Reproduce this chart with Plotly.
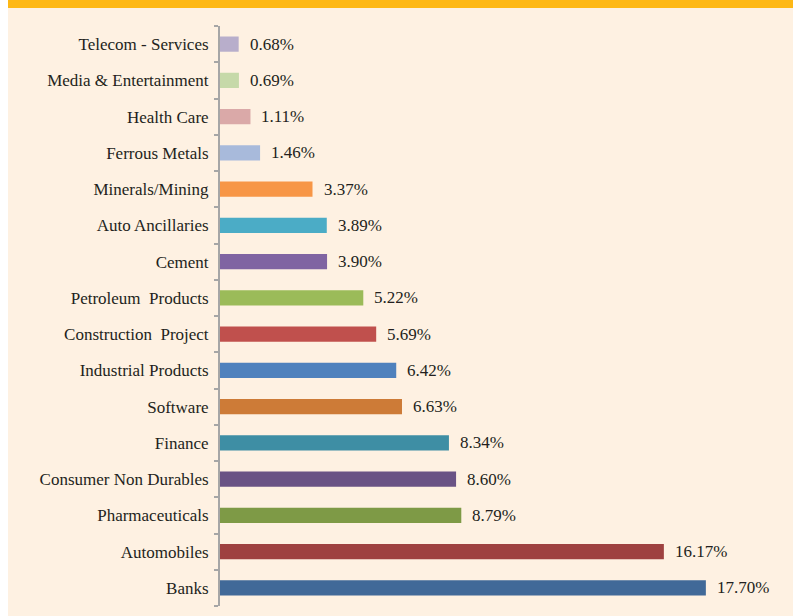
import plotly.graph_objects as go

categories = ["Banks", "Automobiles", "Pharmaceuticals", "Consumer Non Durables", "Finance",
              "Software", "Industrial Products", "Construction  Project", "Petroleum  Products",
              "Cement", "Auto Ancillaries", "Minerals/Mining", "Ferrous Metals", "Health Care",
              "Media & Entertainment", "Telecom - Services"]
values = [17.70, 16.17, 8.79, 8.60, 8.34, 6.63, 6.42, 5.69, 5.22, 3.90, 3.89, 3.37, 1.46, 1.11, 0.69, 0.68]
colors = ["#416998", "#9E4140", "#7E9A46", "#6A5385", "#3E8EA4", "#CD7B37", "#4F81BD", "#C0504D",
          "#9BBB59", "#8064A2", "#4BACC6", "#F79646", "#A8BADB", "#DAA9A8", "#C6D9A9", "#B8AECB"]

W, H = 793, 616
L, R, T, B = 220, 24, 26, 10
pw, ph = W - L - R, H - T - B

def px(x):
    return (x - L) / pw

def py(y):
    return (H - B - y) / ph

fig = go.Figure(go.Bar(
    x=values, y=categories, orientation="h",
    marker=dict(color=colors, line=dict(width=0)),
    width=0.42, hoverinfo="skip",
))

font = "Liberation Serif"
for c, v in zip(categories, values):
    fig.add_annotation(x=v, y=c, text=f"{v:.2f}%", showarrow=False, xanchor="left",
                       xshift=9, font=dict(family=font, size=17, color="#231F20"))

fig.add_shape(type="rect", xref="paper", yref="paper", x0=px(0), x1=px(8), y0=py(H), y1=py(0),
              fillcolor="white", line=dict(width=0), layer="below")
fig.add_shape(type="rect", xref="paper", yref="paper", x0=px(8), x1=px(W), y0=py(8), y1=py(0),
              fillcolor="#FEB815", line=dict(width=0), layer="below")

fig.update_layout(
    width=W, height=H, margin=dict(l=L, r=R, t=T, b=B),
    paper_bgcolor="#FEF1E2", plot_bgcolor="#FEF1E2",
    showlegend=False,
    xaxis=dict(visible=False, range=[0, 20], fixedrange=True),
    yaxis=dict(showline=True, linecolor="#A6A6A6", linewidth=2, ticks="outside",
               tickson="boundaries", ticklen=4, tickcolor="#A6A6A6", tickwidth=2,
               ticklabelstandoff=6, showgrid=False,
               tickfont=dict(family=font, size=17, color="#231F20"), fixedrange=True),
)

fig.write_html("out.html", config={"displayModeBar": False},
               post_script="document.body.style.margin='0';document.body.style.overflow='hidden';")
